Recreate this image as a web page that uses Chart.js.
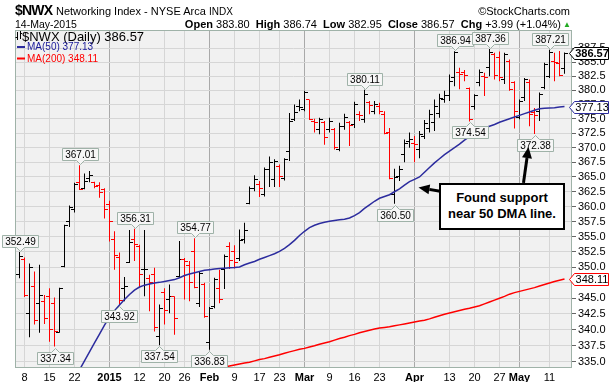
<!DOCTYPE html>
<html><head><meta charset="utf-8">
<title>$NWX Networking Index</title>
<script src="https://cdn.jsdelivr.net/npm/chart.js@4.4.1/dist/chart.umd.min.js"></script>
<style>
html,body{margin:0;padding:0;background:#fff;overflow:hidden;}
#wrap{position:relative;width:611px;height:382px;font-family:"Liberation Sans",Arial,sans-serif;color:#000;}
#c{position:absolute;left:0;top:0;}
.t{position:absolute;white-space:nowrap;line-height:1;}
#callout{position:absolute;left:439px;top:183px;width:126px;height:47px;box-sizing:border-box;border:2px solid #000;background:#fff;
 font-weight:bold;font-size:13px;line-height:16px;text-align:center;padding-top:5px;white-space:nowrap;}
</style></head><body><div id="wrap">
<canvas id="c" width="611" height="382"></canvas>
<div class="t" style="left:15px;top:3px;font-size:14px;font-weight:bold;letter-spacing:-0.8px;">$NWX</div>
<div class="t" style="left:56px;top:6px;font-size:11px;">Networking Index - NYSE Arca</div>
<div class="t" style="left:209px;top:6.5px;font-size:10px;">INDX</div>
<div class="t" style="right:41px;top:6px;font-size:11px;">©StockCharts.com</div>
<div class="t" style="left:15px;top:19px;font-size:10.5px;">14-May-2015</div>
<div class="t" id="ohlc" style="right:50px;top:19px;font-size:11px;"></div>
<div class="t" style="left:563px;top:21px;font-size:8px;color:#22aa22;">▲</div>
<div class="t" id="leg1" style="left:22px;top:30px;font-size:13px;"></div>
<div class="t" id="leg2" style="left:27px;top:42px;font-size:10px;color:#1a1a9a;"></div>
<div class="t" id="leg3" style="left:27px;top:53.5px;font-size:10px;color:#ff0000;"></div>
<div id="callout">Found support<br>near 50 DMA line.</div>
</div>
<script>
// ---------- data ----------
const dates = ['2014-12-05','2014-12-08','2014-12-09','2014-12-10','2014-12-11','2014-12-12','2014-12-15','2014-12-16','2014-12-17','2014-12-18',
'2014-12-19','2014-12-22','2014-12-23','2014-12-24','2014-12-26','2014-12-29','2014-12-30','2014-12-31','2015-01-02','2015-01-05',
'2015-01-06','2015-01-07','2015-01-08','2015-01-09','2015-01-12','2015-01-13','2015-01-14','2015-01-15','2015-01-16','2015-01-20',
'2015-01-21','2015-01-22','2015-01-23','2015-01-26','2015-01-27','2015-01-28','2015-01-29','2015-01-30','2015-02-02','2015-02-03',
'2015-02-04','2015-02-05','2015-02-06','2015-02-09','2015-02-10','2015-02-11','2015-02-12','2015-02-13','2015-02-17','2015-02-18',
'2015-02-19','2015-02-20','2015-02-23','2015-02-24','2015-02-25','2015-02-26','2015-02-27','2015-03-02','2015-03-03','2015-03-04',
'2015-03-05','2015-03-06','2015-03-09','2015-03-10','2015-03-11','2015-03-12','2015-03-13','2015-03-16','2015-03-17','2015-03-18',
'2015-03-19','2015-03-20','2015-03-23','2015-03-24','2015-03-25','2015-03-26','2015-03-27','2015-03-30','2015-03-31','2015-04-01',
'2015-04-02','2015-04-06','2015-04-07','2015-04-08','2015-04-09','2015-04-10','2015-04-13','2015-04-14','2015-04-15','2015-04-16',
'2015-04-17','2015-04-20','2015-04-21','2015-04-22','2015-04-23','2015-04-24','2015-04-27','2015-04-28','2015-04-29','2015-04-30',
'2015-05-01','2015-05-04','2015-05-05','2015-05-06','2015-05-07','2015-05-08','2015-05-11','2015-05-12','2015-05-13','2015-05-14'];

const openP = [348.8,351.3,342.6,346.9,344.2,344.5,345.3,344.2,339.6,350.1,
357.6,359.5,364.1,363.1,364.8,364.0,363.6,362.8,360.3,354.5,
351.6,346.5,350.8,354.5,353.4,349.6,348.1,348.8,338.9,345.9,
344.8,345.2,348.5,351.3,350.3,352.6,344.2,347.2,337.9,343.7,
346.5,349.6,353.4,352.5,351.5,354.5,360.5,363.1,363.7,362.0,
366.3,364.6,366.8,364.7,369.4,374.9,377.2,376.6,378.3,374.6,
373.1,374.3,373.1,373.1,369.7,373.7,374.4,374.0,375.8,374.9,
377.8,376.3,377.2,375.8,372.6,362.0,365.1,368.8,371.1,370.7,
369.7,372.0,373.4,374.3,376.0,378.3,379.0,382.2,383.1,383.1,
380.3,377.1,381.3,382.5,384.0,386.4,385.9,381.9,385.2,381.3,
375.2,378.7,381.3,376.1,376.3,380.5,382.5,385.2,384.8,383.80];

const highP = [352.49,351.6,350.6,349.3,350.4,345.5,346.6,345.1,346.7,357.0,
360.2,364.0,367.01,365.6,366.0,364.2,364.1,363.1,361.0,355.9,
352.4,348.4,356.1,356.31,353.7,356.1,348.8,349.9,344.0,346.6,
347.2,345.3,354.3,351.5,351.0,354.77,349.3,347.5,343.6,348.3,
349.6,352.1,354.1,353.6,356.2,357.3,363.4,365.3,364.3,366.6,
368.5,368.0,367.1,368.2,376.0,377.5,378.4,379.9,378.4,375.0,
375.2,374.6,375.2,373.4,374.3,375.9,374.6,378.0,376.3,380.11,
378.1,378.1,377.8,376.3,373.4,366.4,366.9,371.4,372.6,372.0,
372.9,374.8,376.6,378.4,379.4,379.9,382.8,386.94,384.0,383.6,
380.5,379.3,383.7,383.1,387.36,386.7,386.9,386.7,385.5,381.6,
378.4,382.2,381.9,376.9,379.6,384.9,387.21,386.7,387.0,386.74];

const lowP = [348.2,345.2,338.8,340.8,339.5,340.9,338.1,337.34,339.5,350.0,
356.6,359.0,362.8,362.9,364.1,363.1,361.5,358.0,354.2,349.6,
343.92,344.5,350.7,351.0,346.7,345.3,342.9,339.7,337.54,340.8,
342.6,339.2,348.3,344.8,344.5,346.6,343.6,341.9,336.83,343.4,
344.2,346.5,349.7,349.8,351.0,353.9,360.4,362.6,361.6,361.7,
363.3,363.3,363.3,364.4,367.7,374.6,376.3,376.3,374.8,372.6,
372.3,370.5,372.6,369.7,369.4,373.1,370.3,373.4,374.6,374.3,
375.8,375.8,375.8,372.3,364.6,360.5,364.3,367.5,370.0,367.5,
368.2,371.5,372.6,372.9,375.2,377.8,378.1,380.7,380.2,381.6,
374.54,376.6,380.7,379.0,382.5,381.9,381.6,381.1,379.9,373.3,
374.9,378.1,373.7,372.38,374.6,380.2,382.2,381.6,382.5,382.95];

const closeP = [351.8,345.5,350.0,341.4,345.4,341.7,340.0,339.7,346.5,356.8,
359.8,363.7,362.9,364.3,365.3,363.4,362.3,359.6,357.5,351.9,
344.6,346.9,354.0,353.7,348.8,349.7,347.5,340.3,343.4,343.1,
345.3,341.7,351.3,351.0,347.5,346.8,349.0,342.1,343.4,348.0,
344.8,351.8,351.1,350.8,354.4,356.0,363.1,364.6,363.0,366.3,
367.4,367.6,365.1,368.0,374.6,376.1,376.9,379.6,374.9,374.3,
374.9,371.7,374.6,370.0,373.6,375.2,373.9,377.5,375.5,379.2,
377.3,377.5,376.3,372.4,364.7,364.9,366.3,370.8,371.4,370.6,
372.3,374.2,375.8,377.2,378.5,379.0,381.6,386.7,382.8,382.6,
374.9,379.0,383.1,382.2,386.7,382.6,382.3,386.4,380.2,376.3,
378.1,381.9,375.8,375.5,379.3,384.6,386.7,384.9,382.58,386.57];

const ma50 = [null,null,null,null,null,null,null,null,null,null,
null,332.5,333.7,335.1,336.5,337.9,339.3,340.7,342.0,343.0,
343.9,344.8,345.6,346.3,346.8,347.1,347.3,347.45,347.55,347.7,
347.85,348.0,348.3,348.65,348.9,349.1,349.3,349.5,349.6,349.7,
349.8,349.85,349.9,349.95,350.05,350.4,350.7,350.95,351.3,351.6,
351.9,352.2,352.6,353.1,353.7,354.4,355.2,355.9,356.5,356.9,
357.2,357.4,357.55,357.7,357.8,357.9,358.1,358.5,359.0,359.7,
360.3,360.9,361.4,361.7,362.0,362.5,363.0,363.6,364.2,364.6,
365.0,365.8,366.6,367.4,368.1,368.8,369.4,370.0,370.6,371.3,
371.9,372.5,373.0,373.4,373.7,374.0,374.4,374.7,375.0,375.3,
375.6,375.9,376.2,376.5,376.75,376.85,376.9,376.95,377.05,377.13];

const ma200 = [null,null,null,null,null,null,null,null,null,null,
null,null,null,null,null,null,null,null,null,null,
null,null,null,null,null,null,null,null,null,null,
null,null,null,null,null,null,null,null,333.6,333.8,
334.0,334.15,334.3,334.45,334.6,334.75,334.9,335.1,335.3,335.45,
335.65,335.85,336.05,336.3,336.5,336.7,336.9,337.05,337.25,337.45,
337.7,337.9,338.1,338.35,338.6,338.8,339.05,339.25,339.5,339.7,
339.9,340.1,340.25,340.35,340.45,340.6,340.75,340.9,341.05,341.2,
341.35,341.5,341.7,341.95,342.2,342.45,342.65,342.85,343.05,343.25,
343.4,343.6,343.8,344.1,344.4,344.7,345.0,345.3,345.65,345.9,
346.1,346.3,346.5,346.7,346.95,347.2,347.45,347.7,347.9,348.11];

const tickIdx  = [1,6,11,18,24,29,33,38,43,48,52,57,62,67,72,79,86,91,96,100,106];
const tickText = ['8','15','22','2015','12','20','26','Feb','9','17','23','Mar','9','16','23','Apr','13','20','27','May','11'];
const monthLabels = ['2015','Feb','Mar','Apr','May'];
const yTicks = [335,337.5,340,342.5,345,347.5,350,352.5,355,357.5,360,362.5,365,367.5,370,372.5,375,377.5,380,382.5,385,387.5];

const peakIdx = [0,12,23,35,69,87,94,106];
const troughIdx = [7,20,28,38,75,90,103];
const prevClose = 382.58;

// ---------- styling ----------
const FONT = '"Liberation Sans", Arial, sans-serif';
const PLOT_BG = '#f1f1f1';
const GRID = '#d6d6d6';
const GRID_MONTH = '#a9a9a9';
const FRAME = '#9fb2a8';
const BLUE = '#2c2c9e';
const RED = '#ff0000';

const N = dates.length;
const last = N - 1;
const isUp = closeP.map((c, i) => i === 0 ? true : c >= closeP[i - 1]);

document.getElementById('ohlc').innerHTML =
  '<b>Open</b> ' + openP[last].toFixed(2) + ' &nbsp;<b>High</b> ' + highP[last].toFixed(2) +
  ' &nbsp;<b>Low</b> ' + lowP[last].toFixed(2) + ' &nbsp;<b>Close</b> ' + closeP[last].toFixed(2) +
  ' &nbsp;<b>Chg</b> +' + (closeP[last] - prevClose).toFixed(2) + ' (+' + ((closeP[last] - prevClose) / prevClose * 100).toFixed(2) + '%)';
document.getElementById('leg1').textContent = '$NWX (Daily) ' + closeP[last].toFixed(2);
document.getElementById('leg2').textContent = 'MA(50) ' + ma50[last].toFixed(2);
document.getElementById('leg3').textContent = 'MA(200) ' + ma200[last].toFixed(2);

function tickImg(color, left) {
  const cv = document.createElement('canvas');
  cv.width = 7; cv.height = 1;
  const g = cv.getContext('2d');
  g.fillStyle = color;
  if (left) g.fillRect(0, 0, 3, 1); else g.fillRect(4, 0, 3, 1);
  return cv;
}
const imgs = {
  oK: tickImg('#000', true), oR: tickImg(RED, true),
  cK: tickImg('#000', false), cR: tickImg(RED, false)
};

function bubble(ctx, x, yTip, text, above) {
  ctx.font = '10px ' + FONT;
  const w = Math.round(ctx.measureText(text).width) + 5;
  const h = 12;
  const cx = Math.round(x) + 0.5;
  const bx = Math.round(x - w / 2) + 0.5;
  ctx.beginPath();
  let by;
  if (above) {
    by = Math.round(yTip - 5 - h) + 0.5;
    ctx.moveTo(bx, by); ctx.lineTo(bx + w, by); ctx.lineTo(bx + w, by + h);
    ctx.lineTo(cx + 4, by + h); ctx.lineTo(cx, by + h + 4); ctx.lineTo(cx - 4, by + h);
    ctx.lineTo(bx, by + h); ctx.closePath();
  } else {
    by = Math.round(yTip + 5) + 0.5;
    ctx.moveTo(bx, by); ctx.lineTo(cx - 4, by); ctx.lineTo(cx, by - 4); ctx.lineTo(cx + 4, by);
    ctx.lineTo(bx + w, by); ctx.lineTo(bx + w, by + h); ctx.lineTo(bx, by + h); ctx.closePath();
  }
  ctx.fillStyle = '#f6f6f6'; ctx.fill();
  ctx.lineWidth = 1; ctx.strokeStyle = FRAME; ctx.stroke();
  ctx.fillStyle = '#000'; ctx.textAlign = 'center'; ctx.textBaseline = 'middle';
  ctx.fillText(text, bx + w / 2, by + h / 2 + 0.5);
}

function tag(ctx, y, text, color, bold) {
  const x0 = 569.5, x1 = 574.5, x2 = 608.5, h = 6;
  const yy = Math.round(y) + 0.5;
  ctx.beginPath();
  ctx.moveTo(x0, yy); ctx.lineTo(x1, yy - h); ctx.lineTo(x2, yy - h); ctx.lineTo(x2, yy + h);
  ctx.lineTo(x1, yy + h); ctx.closePath();
  ctx.fillStyle = '#fff'; ctx.fill();
  ctx.lineWidth = 1; ctx.strokeStyle = color; ctx.stroke();
  ctx.font = (bold ? 'bold ' : '') + '11px ' + FONT;
  ctx.fillStyle = '#000'; ctx.textAlign = 'center'; ctx.textBaseline = 'middle';
  ctx.fillText(text, (x1 + x2) / 2 + 0.5, yy + 0.5);
}

function arrow(ctx, x1, y1, x2, y2) {
  const ang = Math.atan2(y2 - y1, x2 - x1), L = 11, W = 5;
  const bx = x2 - L * Math.cos(ang), by = y2 - L * Math.sin(ang);
  ctx.strokeStyle = '#000'; ctx.fillStyle = '#000'; ctx.lineWidth = 3;
  ctx.beginPath(); ctx.moveTo(x1, y1); ctx.lineTo(bx, by); ctx.stroke();
  ctx.beginPath(); ctx.moveTo(x2, y2);
  ctx.lineTo(bx + W * Math.sin(ang), by - W * Math.cos(ang));
  ctx.lineTo(bx - W * Math.sin(ang), by + W * Math.cos(ang));
  ctx.closePath(); ctx.fill();
}

const overlay = {
  id: 'overlay',
  beforeDraw(chart) {
    const { ctx, chartArea: a } = chart;
    ctx.save(); ctx.fillStyle = PLOT_BG;
    ctx.fillRect(a.left, a.top, a.right - a.left, a.bottom - a.top);
    ctx.restore();
  },
  beforeDatasetsDraw(chart) { chart.ctx.imageSmoothingEnabled = false; },
  afterDatasetsDraw(chart) { chart.ctx.imageSmoothingEnabled = true; },
  afterDraw(chart) {
    const { ctx, chartArea: a, scales: { x, y } } = chart;
    ctx.save();
    ctx.strokeStyle = FRAME; ctx.lineWidth = 1;
    ctx.strokeRect(a.left + 0.5, a.top + 0.5, a.right - a.left - 1, a.bottom - a.top - 1);
    peakIdx.forEach(i => bubble(ctx, x.getPixelForValue(i), y.getPixelForValue(highP[i]), highP[i].toFixed(2), true));
    troughIdx.forEach(i => bubble(ctx, x.getPixelForValue(i), y.getPixelForValue(lowP[i]), lowP[i].toFixed(2), false));
    tag(ctx, y.getPixelForValue(ma200[last]), ma200[last].toFixed(2), RED, false);
    tag(ctx, y.getPixelForValue(ma50[last]), ma50[last].toFixed(2), BLUE, false);
    tag(ctx, y.getPixelForValue(closeP[last]), closeP[last].toFixed(2), '#000', true);
    // legend glyph
    ctx.strokeStyle = '#000'; ctx.lineWidth = 1;
    ctx.beginPath();
    ctx.moveTo(17.5, 32); ctx.lineTo(17.5, 40); ctx.moveTo(15.5, 37.5); ctx.lineTo(17.5, 37.5);
    ctx.moveTo(20.5, 31); ctx.lineTo(20.5, 39); ctx.moveTo(20.5, 33.5); ctx.lineTo(22, 33.5);
    ctx.stroke();
    ctx.lineWidth = 2;
    ctx.strokeStyle = BLUE; ctx.beginPath(); ctx.moveTo(17, 47); ctx.lineTo(25, 47); ctx.stroke();
    ctx.strokeStyle = RED; ctx.beginPath(); ctx.moveTo(17, 58.5); ctx.lineTo(25, 58.5); ctx.stroke();
    // callout arrows (anchored in data space)
    arrow(ctx, x.getPixelForValue(84.1), y.getPixelForValue(362.6), x.getPixelForValue(79.8), y.getPixelForValue(363.2));
    arrow(ctx, x.getPixelForValue(100.8), y.getPixelForValue(364.0), x.getPixelForValue(101.8), y.getPixelForValue(370.1));
    ctx.restore();
  }
};

Chart.defaults.font.family = FONT;
new Chart(document.getElementById('c'), {
  type: 'line',
  data: {
    datasets: [
      { type: 'line', label: 'MA(50)', data: ma50.map((v, i) => ({ x: i, y: v })), borderColor: BLUE, borderWidth: 1.5,
        pointRadius: 0, tension: 0, fill: false, order: 0 },
      { type: 'line', label: 'MA(200)', data: ma200.map((v, i) => ({ x: i, y: v })), borderColor: RED, borderWidth: 1.5,
        pointRadius: 0, tension: 0, fill: false, order: 0 },
      { type: 'bar', label: 'High-Low', data: dates.map((d, i) => ({ x: i, y: [lowP[i], highP[i]] })),
        backgroundColor: isUp.map(u => u ? '#000' : RED), barThickness: 1, borderWidth: 0, inflateAmount: 0, order: 2 },
      { type: 'line', label: 'Open', data: dates.map((d, i) => ({ x: i, y: openP[i] })), showLine: false,
        pointStyle: ctx => isUp[ctx.dataIndex] ? imgs.oK : imgs.oR, pointRadius: 2, order: 1 },
      { type: 'line', label: 'Close', data: dates.map((d, i) => ({ x: i, y: closeP[i] })), showLine: false,
        pointStyle: ctx => isUp[ctx.dataIndex] ? imgs.cK : imgs.cR, pointRadius: 2, order: 1 }
    ]
  },
  options: {
    responsive: false, animation: false, events: [], devicePixelRatio: 1,
    layout: { padding: { left: 15, top: 30, right: 0, bottom: 0 } },
    plugins: { legend: { display: false }, tooltip: { enabled: false } },
    scales: {
      x: {
        type: 'linear', min: -0.9, max: 110.5, bounds: 'data', offset: false,
        afterBuildTicks: s => { s.ticks = tickIdx.map(v => ({ value: v })); },
        afterFit: s => { s.height = 14; },
        ticks: {
          autoSkip: false, maxRotation: 0, padding: 3, color: '#000',
          callback: v => tickText[tickIdx.indexOf(v)],
          font: ctx => ({ family: FONT, size: 11, weight: monthLabels.includes(tickText[ctx.index]) ? 'bold' : 'normal' })
        },
        grid: { offset: false, drawTicks: false, lineWidth: 1,
          color: ctx => (ctx.tick && monthLabels.includes(tickText[tickIdx.indexOf(ctx.tick.value)])) ? GRID_MONTH : GRID },
        border: { display: false }
      },
      y: {
        type: 'logarithmic', position: 'right', min: 333.99, max: 390.8, bounds: 'data',
        afterBuildTicks: s => { s.ticks = yTicks.map(v => ({ value: v })); },
        afterFit: s => { s.width = 39; },
        ticks: { autoSkip: false, padding: 2, color: '#000', font: { family: FONT, size: 11 },
          callback: v => Number(v).toFixed(1) },
        grid: { color: GRID, tickLength: 4, tickColor: '#666', lineWidth: 1 },
        border: { display: false }
      }
    }
  },
  plugins: [overlay]
});
</script>
</body></html>
